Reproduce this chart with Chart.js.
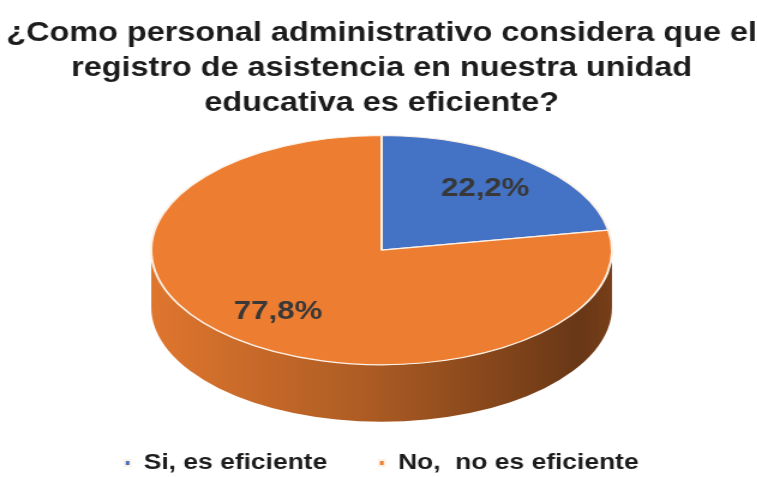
<!DOCTYPE html>
<html>
<head>
<meta charset="utf-8">
<script src="https://cdn.jsdelivr.net/npm/chart.js@4.4.1/dist/chart.umd.min.js"></script>
<style>
  html, body { margin: 0; padding: 0; background: #fff; overflow: hidden; }
  /* the whole chart is drawn a bit narrower and then widened */
  #wrap { width: 631px; height: 477px; transform: scaleX(1.2); transform-origin: 0 0; }
</style>
</head>
<body>
<div id="wrap"><canvas id="chart"></canvas></div>
<script>
var titleLines = [
    '¿Como personal administrativo considera que el',
    'registro de asistencia en nuestra unidad',
    'educativa es eficiente?'
];
var categories = ['Si, es eficiente', 'No,  no es eficiente'];
var percentages = [22.2, 77.8];
var sliceColors = ['#4472C4', '#ED7D31'];

var FONT = "'Liberation Sans', Arial, Helvetica, sans-serif";

function shade(hex, k) {
    var n = parseInt(hex.slice(1), 16);
    var r = Math.round(((n >> 16) & 255) * k);
    var g = Math.round(((n >> 8) & 255) * k);
    var b = Math.round((n & 255) * k);
    return 'rgb(' + r + ',' + g + ',' + b + ')';
}

// squashes the pie into an ellipse and puts a side wall under its front half
var tiltPlugin = {
    id: 'tilt',
    beforeDatasetsDraw: function(chart, args, opts) {
        var ctx = chart.ctx;
        var arcs = chart.getDatasetMeta(0).data;
        var cx = arcs[0].x, cy = arcs[0].y, r = arcs[0].outerRadius;
        var ry = r * opts.ratio;

        arcs.forEach(function(arc, i) {
            var color = chart.data.datasets[0].backgroundColor[i];
            var grad = ctx.createLinearGradient(cx - r, 0, cx + r, 0);
            grad.addColorStop(0, shade(color, 0.94));
            grad.addColorStop(0.45, shade(color, 0.74));
            grad.addColorStop(0.75, shade(color, 0.56));
            grad.addColorStop(0.93, shade(color, 0.44));
            grad.addColorStop(1, shade(color, 0.5));
            [0, 2 * Math.PI].forEach(function(base) {
                var a0 = Math.max(arc.startAngle, base);
                var a1 = Math.min(arc.endAngle, base + Math.PI);
                if (a1 <= a0) return;
                ctx.beginPath();
                ctx.ellipse(cx, cy, r, ry, 0, a0, a1);
                ctx.ellipse(cx, cy + opts.depth, r, ry, 0, a1, a0, true);
                ctx.closePath();
                ctx.fillStyle = grad;
                ctx.fill();
            });
        });

        ctx.save();
        ctx.translate(cx, cy);
        ctx.scale(1, opts.ratio);
        ctx.translate(-cx, -cy);
    },
    afterDatasetsDraw: function(chart, args, opts) {
        var ctx = chart.ctx;
        ctx.restore();

        // percentage labels on the top face
        var values = chart.data.datasets[0].data;
        ctx.save();
        ctx.font = 'bold 26px ' + FONT;
        ctx.fillStyle = '#383838';
        ctx.textAlign = 'center';
        ctx.textBaseline = 'middle';
        chart.getDatasetMeta(0).data.forEach(function(arc, i) {
            var mid = (arc.startAngle + arc.endAngle) / 2;
            var d = arc.outerRadius * 0.7;
            var x = arc.x + d * Math.cos(mid);
            var y = arc.y + d * opts.ratio * Math.sin(mid);
            ctx.fillText(values[i].toFixed(1).replace('.', ',') + '%', x, y);
        });
        ctx.restore();
    }
};

new Chart(document.getElementById('chart'), {
    type: 'pie',
    data: {
        labels: categories,
        datasets: [{
            data: percentages,
            backgroundColor: sliceColors,
            borderColor: '#fdf1e6',
            borderWidth: 2,
            radius: 192,
            clip: false
        }]
    },
    options: {
        responsive: true,
        maintainAspectRatio: false,
        animation: false,
        events: [],
        layout: { padding: { top: 0, bottom: -7, left: 5, right: 0 } },
        plugins: {
            tilt: { ratio: 0.597, depth: 57 },
            title: {
                display: true,
                text: titleLines,
                color: '#1c1c1c',
                font: { family: FONT, size: 27, weight: 'bold', lineHeight: 1.3 },
                padding: { top: 16, bottom: -30 }
            },
            legend: {
                position: 'bottom',
                labels: {
                    boxWidth: 5,
                    boxHeight: 6,
                    padding: 43,
                    color: '#1c1c1c',
                    font: { family: FONT, size: 22, weight: 'bold' }
                }
            },
            tooltip: { enabled: false }
        }
    },
    plugins: [tiltPlugin]
});
</script>
</body>
</html>
